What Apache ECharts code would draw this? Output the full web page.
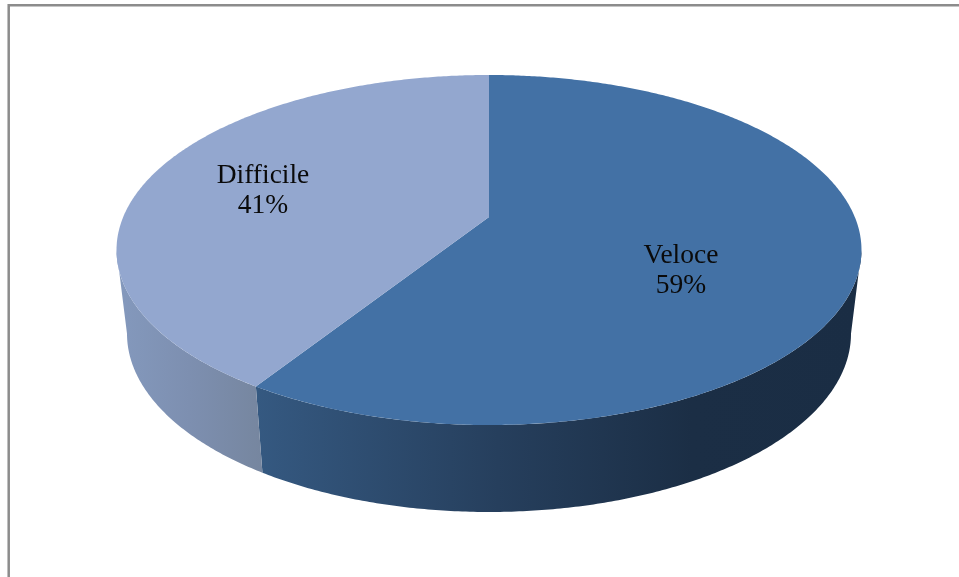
<!DOCTYPE html>
<html>
<head>
<meta charset="utf-8">
<style>html,body{margin:0;padding:0;background:#fff}#c{width:959px;height:577px}</style>
<script src="https://cdn.jsdelivr.net/npm/echarts@6/dist/echarts.min.js"></script>
</head>
<body>
<div id="c"></div>
<script>
const categories = ['Veloce', 'Difficile'];
const values = [59, 41];

const topColors = ['#4371a5', '#93a7cf'];
const labelPos = [[681, 270.5], [263, 190.5]];
const sideStops = [
  [[0, '#355981'], [0.4, '#263f5d'], [0.72, '#1b2e45'], [1, '#1a2d44']],
  [[0, '#8499bd'], [0.5, '#7d8fb0'], [1, '#76869f']]
];

// Perspective view of the disc: top face and (further away) bottom face
const persp = 0.1886;
const topFace = { cx: 489, cy: 217, a: 365.8, b: 168.8 };
const botFace = { cx: 489, cy: 300, a: 355.5, b: 172 };

function project(face, deg) {
  const t = deg * Math.PI / 180, u = Math.sin(t), v = -Math.cos(t), w = 1 - persp * v;
  return [face.cx + face.a * u / w, face.cy + face.b * v / w];
}
function arc(face, from, to) {
  const n = Math.max(2, Math.ceil(Math.abs(to - from) * 2)), pts = [];
  for (let i = 0; i <= n; i++) pts.push(project(face, from + (to - from) * i / n));
  return pts;
}
const silhouette = Math.acos(-persp) * 180 / Math.PI;
const total = values.reduce((s, x) => s + x, 0);

function renderSlice(params, api) {
  const i = params.dataIndex;
  let before = 0;
  for (let k = 0; k < i; k++) before += values[k];
  const from = before / total * 360, to = (before + api.value(0)) / total * 360;
  const children = [];

  const wFrom = Math.max(from, silhouette), wTo = Math.min(to, 360 - silhouette);
  if (wTo > wFrom) {
    const wall = arc(topFace, wFrom, wTo).concat(arc(botFace, wFrom, wTo).reverse());
    children.push({
      type: 'polygon', z2: 1,
      shape: { points: wall },
      style: {
        fill: new echarts.graphic.LinearGradient(0, 0, 1, 0,
          sideStops[i].map(s => ({ offset: s[0], color: s[1] })))
      }
    });
  }
  children.push({
    type: 'polygon', z2: 2,
    shape: { points: [[topFace.cx, topFace.cy]].concat(arc(topFace, from, to)) },
    style: { fill: topColors[i] }
  });
  children.push({
    type: 'text', z2: 3,
    x: labelPos[i][0], y: labelPos[i][1],
    style: {
      text: categories[i] + '\n' + api.value(0) + '%',
      font: '27.5px "Liberation Serif"', lineHeight: 30,
      fill: '#0a0a0a', align: 'center', verticalAlign: 'middle'
    }
  });
  return { type: 'group', children };
}

const chart = echarts.init(document.getElementById('c'), null, { renderer: 'canvas' });
chart.setOption({
  animation: false,
  backgroundColor: '#fff',
  graphic: [{
    type: 'polyline', silent: true,
    shape: { points: [[8.7, 577], [8.7, 5.2], [959, 5.2]] },
    style: { stroke: '#8c8c8c', lineWidth: 2.5, fill: null }
  }],
  series: [{
    type: 'custom',
    coordinateSystem: 'none',
    renderItem: renderSlice,
    data: categories.map((c, i) => ({ name: c, value: [values[i]] }))
  }]
});
</script>
</body>
</html>
